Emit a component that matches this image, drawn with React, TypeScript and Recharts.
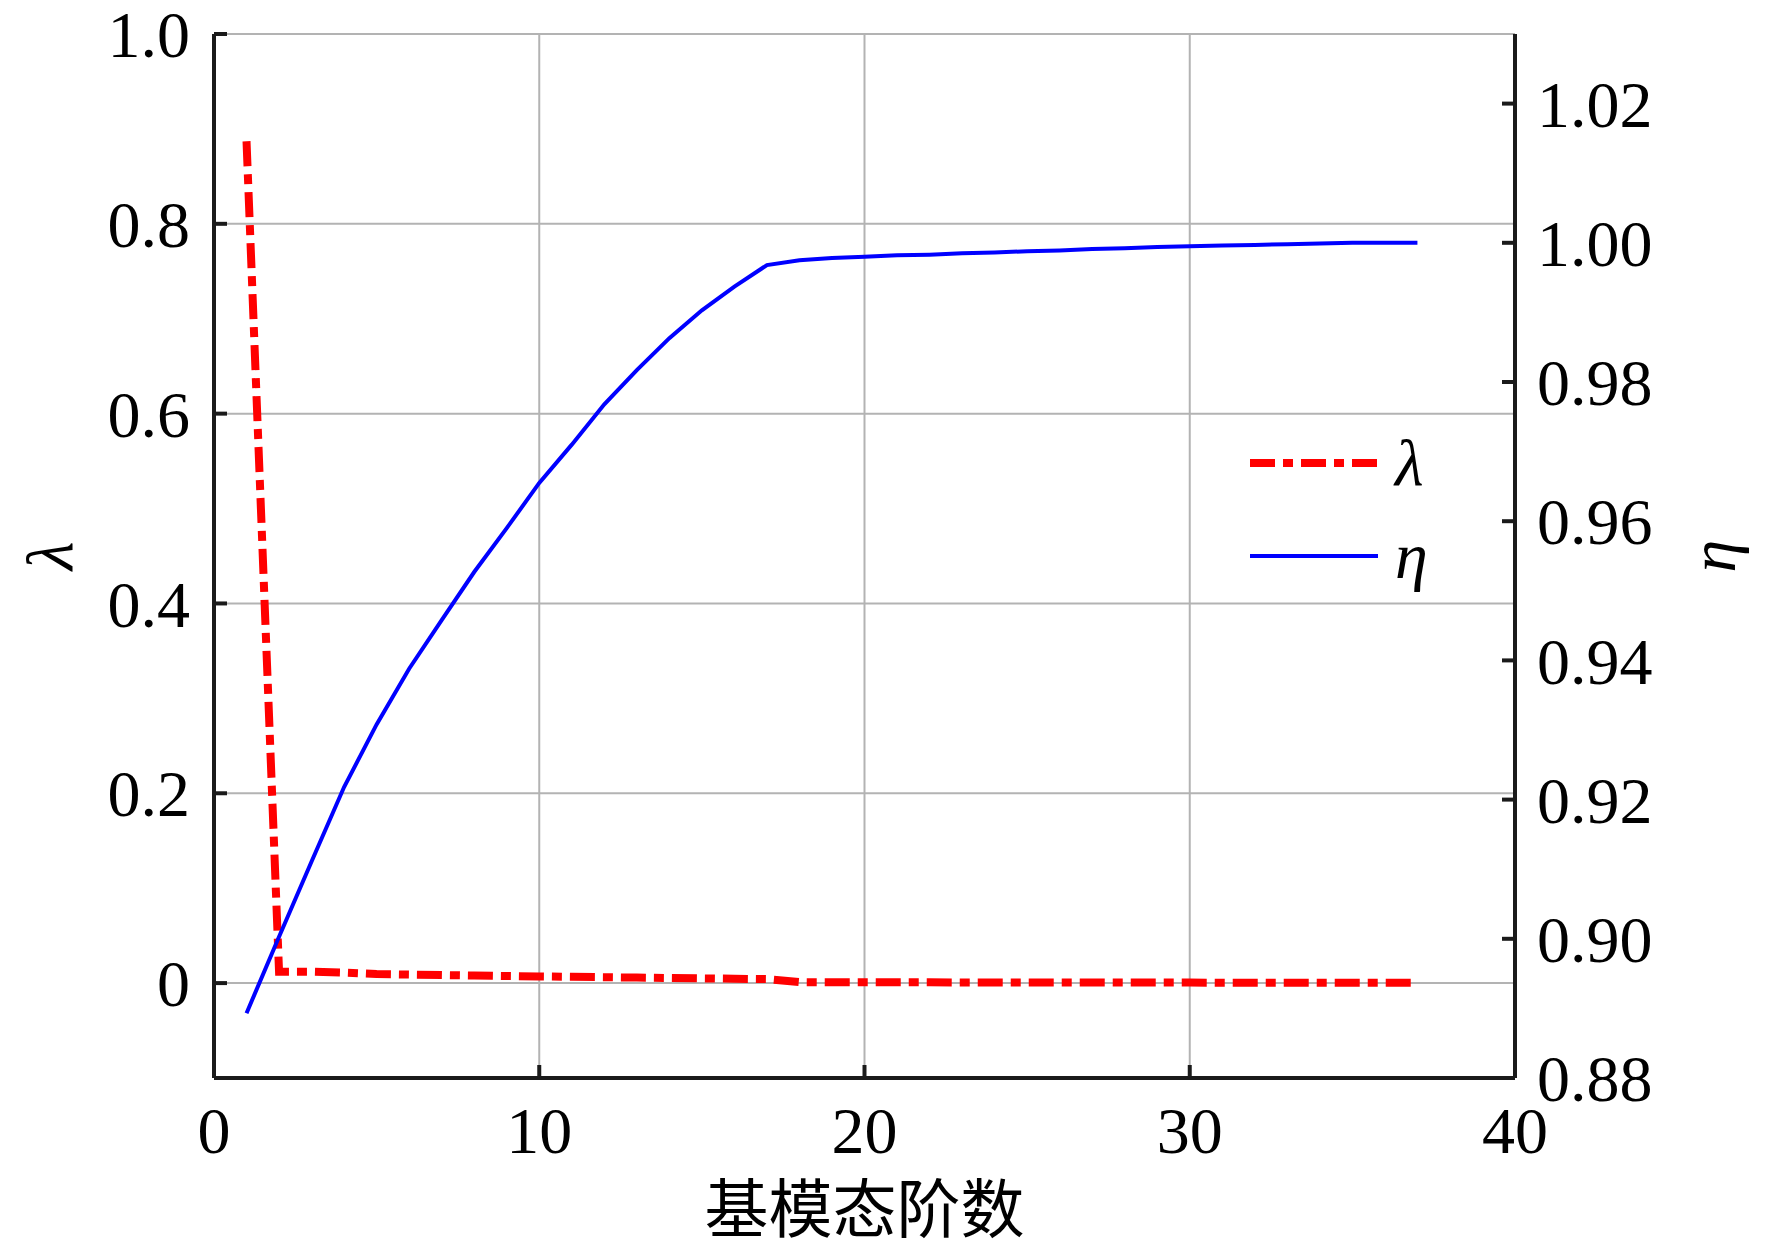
import React from 'react'
import {
  LineChart, Line, XAxis, YAxis, CartesianGrid, Legend
} from 'recharts'

// 基模态阶数 1..37
const orders = [
  1, 2, 3, 4, 5, 6, 7, 8, 9, 10, 11, 12, 13, 14, 15, 16, 17, 18, 19,
  20, 21, 22, 23, 24, 25, 26, 27, 28, 29, 30, 31, 32, 33, 34, 35, 36, 37,
]

const lambdaValues = [
  0.887, 0.012, 0.012, 0.011, 0.0095, 0.009, 0.0085, 0.008, 0.0075, 0.007,
  0.0066, 0.0062, 0.0058, 0.0054, 0.005, 0.0046, 0.0042, 0.001, 0.0009,
  0.0009, 0.0008, 0.0008, 0.0007, 0.0007, 0.0006, 0.0006, 0.0006, 0.0005,
  0.0005, 0.0005, 0.0004, 0.0004, 0.0004, 0.0003, 0.0003, 0.0003, 0.0003,
]

const etaValues = [
  0.8893, 0.9003, 0.9111, 0.9218, 0.9308, 0.9388, 0.9458, 0.9527, 0.959, 0.9655,
  0.971, 0.9768, 0.9817, 0.9863, 0.9903, 0.9937, 0.9968, 0.9975, 0.9978,
  0.998, 0.9982, 0.9983, 0.9985, 0.9986, 0.9988, 0.9989, 0.9991, 0.9992,
  0.9994, 0.9995, 0.9996, 0.9997, 0.9998, 0.9999, 1.0, 1.0, 1.0,
]

const xTicks = [0, 10, 20, 30, 40]
const lambdaTicks = [0, 0.2, 0.4, 0.6, 0.8, 1.0]
const etaTicks = [0.88, 0.9, 0.92, 0.94, 0.96, 0.98, 1.0, 1.02]
const legendOrder = ['lambda', 'eta']

const data = orders.map((n, i) => ({ n, lambda: lambdaValues[i], eta: etaValues[i] }))

const AXIS = '#1a1a1a'
const SERIF = '"Liberation Serif", "Times New Roman", serif'
const FS = 66
const TICK_LEN = 13

const fmtLambda = (v: number) => (v === 0 ? '0' : v.toFixed(1))
const fmtEta = (v: number) => v.toFixed(2)

const LeftTick = ({ x, y, payload }: any) => (
  <g>
    <line x1={x} y1={y} x2={x + TICK_LEN} y2={y} stroke={AXIS} strokeWidth={4} />
    <text x={x - 24} y={y} dy="0.35em" textAnchor="end" fontFamily={SERIF} fontSize={FS} fill="#000">
      {fmtLambda(payload.value)}
    </text>
  </g>
)

const RightTick = ({ x, y, payload }: any) => (
  <g>
    <line x1={x} y1={y} x2={x - TICK_LEN} y2={y} stroke={AXIS} strokeWidth={4} />
    <text x={x + 22} y={y} dy="0.35em" textAnchor="start" fontFamily={SERIF} fontSize={FS} fill="#000">
      {fmtEta(payload.value)}
    </text>
  </g>
)

const BottomTick = ({ x, y, payload }: any) => (
  <g>
    <line x1={x} y1={y} x2={x} y2={y - TICK_LEN} stroke={AXIS} strokeWidth={4} />
    <text x={x} y={y + 52} dy="0.35em" textAnchor="middle" fontFamily={SERIF} fontSize={FS} fill="#000">
      {payload.value}
    </text>
  </g>
)

const TopTick = ({ x, y }: any) => (
  <line x1={x} y1={y} x2={x} y2={y + TICK_LEN} stroke={AXIS} strokeWidth={4} />
)

const renderLegend = ({ payload }: any) => {
  const items = [...(payload || [])].sort(
    (a: any, b: any) => legendOrder.indexOf(a.dataKey) - legendOrder.indexOf(b.dataKey)
  )
  return (
    <div style={{ display: 'flex', flexDirection: 'column' }}>
      {items.map((item: any) => {
        const p = item.payload || {}
        return (
          <div key={item.value} style={{ display: 'flex', alignItems: 'center', height: 93 }}>
            <svg width={128} height={20} style={{ display: 'block' }}>
              <line x1={0} y1={10} x2={128} y2={10} stroke={item.color}
                strokeWidth={p.strokeWidth} strokeDasharray={p.strokeDasharray} />
            </svg>
            <span style={{ marginLeft: 17, fontFamily: SERIF, fontSize: FS, fontStyle: 'italic', lineHeight: 1 }}>
              {item.value}
            </span>
          </div>
        )
      })}
    </div>
  )
}

export default function App() {
  return (
    <div style={{ width: 1756, height: 1244, background: '#fff' }}>
      <LineChart width={1756} height={1244} data={data} style={{ overflow: 'visible' }}
        margin={{ top: 26, right: 49, bottom: 8, left: 0 }}>
        <CartesianGrid xAxisId="bottom" yAxisId="left" stroke="#b3b3b3" strokeWidth={2} />
        <XAxis xAxisId="bottom" dataKey="n" type="number" domain={[0, 40]} ticks={xTicks}
          height={166} tickSize={0} tickMargin={0} tickLine={false} interval={0}
          axisLine={{ stroke: AXIS, strokeWidth: 4 }} tick={(p: any) => <BottomTick {...p} />}
          label={{
            content: ({ viewBox }: any) => (
              <text x={viewBox.x + viewBox.width / 2} y={viewBox.y + 131} dy="0.36em" textAnchor="middle"
                fontFamily='"Noto Sans CJK SC", sans-serif' fontSize={64} fill="#000">
                基模态阶数
              </text>
            ),
          }} />
        <XAxis xAxisId="top" dataKey="n" type="number" domain={[0, 40]} ticks={xTicks}
          orientation="top" height={0} tickSize={0} tickMargin={0} tickLine={false} interval={0}
          axisLine={{ stroke: AXIS, strokeWidth: 4 }} tick={(p: any) => <TopTick {...p} />} />
        <YAxis yAxisId="left" type="number" domain={[-0.1, 1.0]} ticks={lambdaTicks}
          width={206} tickSize={0} tickMargin={0} tickLine={false} interval={0} allowDataOverflow
          axisLine={{ stroke: AXIS, strokeWidth: 4 }} tick={(p: any) => <LeftTick {...p} />}
          label={{
            content: ({ viewBox }: any) => {
              const cx = viewBox.x + 42
              const cy = viewBox.y + viewBox.height / 2
              return (
                <text x={cx} y={cy} dy="0.34em" textAnchor="middle" transform={`rotate(-90, ${cx}, ${cy})`}
                  fontFamily={SERIF} fontStyle="italic" fontSize={FS} fill="#000">λ</text>
              )
            },
          }} />
        <YAxis yAxisId="right" orientation="right" type="number" domain={[0.88, 1.03]} ticks={etaTicks}
          width={200} tickSize={0} tickMargin={0} tickLine={false} interval={0} allowDataOverflow
          axisLine={{ stroke: AXIS, strokeWidth: 4 }} tick={(p: any) => <RightTick {...p} />}
          label={{
            content: ({ viewBox }: any) => {
              const cx = viewBox.x + 212
              const cy = viewBox.y + viewBox.height / 2
              return (
                <text x={cx} y={cy} dy="0.12em" textAnchor="middle" transform={`rotate(-90, ${cx}, ${cy})`}
                  fontFamily={SERIF} fontStyle="italic" fontSize={FS} fill="#000">η</text>
              )
            },
          }} />
        <Legend layout="horizontal" verticalAlign="middle" align="center"
          wrapperStyle={{ left: 1242, top: 408, width: 'auto' }} content={renderLegend} />
        <Line xAxisId="bottom" yAxisId="left" type="linear" dataKey="lambda" name="λ"
          stroke="#ff0000" strokeWidth={8} strokeDasharray="25 8 10 8" dot={false}
          isAnimationActive={false} />
        <Line xAxisId="bottom" yAxisId="right" type="linear" dataKey="eta" name="η"
          stroke="#0000ff" strokeWidth={4} dot={false} isAnimationActive={false} />
      </LineChart>
    </div>
  )
}
